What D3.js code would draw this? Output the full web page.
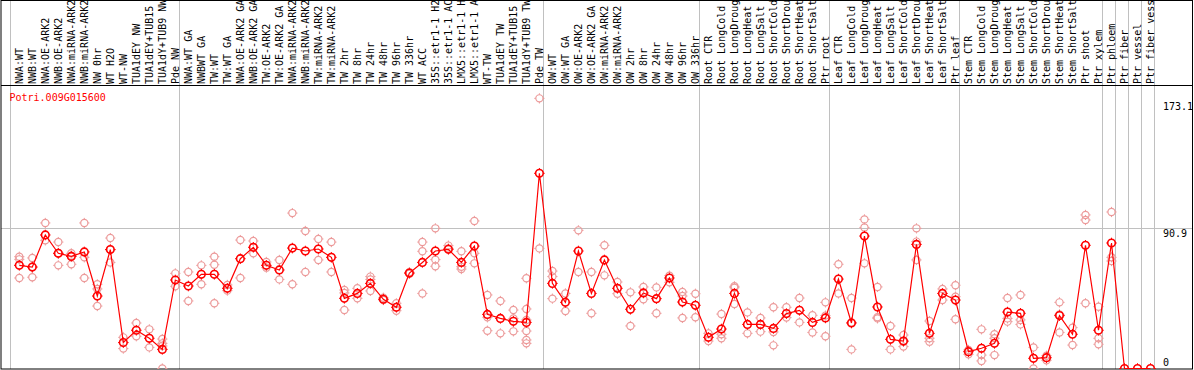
<!DOCTYPE html>
<html>
<head>
<meta charset="utf-8">
<script src="https://cdn.jsdelivr.net/npm/d3@7"></script>
<style>
  body { margin: 0; background: #fff; }
  svg { display: block; }
  text { font-family: "DejaVu Sans Mono", monospace; font-size: 10px; }
</style>
</head>
<body>
<svg id="chart" width="1194" height="370"></svg>
<script>
const geneId = 'Potri.009G015600';

const samples = [
  'NWA:WT', 'NWB:WT', 'NWA:OE-ARK2', 'NWB:OE-ARK2', 'NWA:miRNA-ARK2', 'NWB:miRNA-ARK2',
  'NW 0hr', 'WT H2O', 'WT-NW', 'TUA1dEY NW', 'TUA1dEY+TUB15', 'TUA1dY+TUB9 NW', 'Pde NW',
  'NWA:WT GA', 'NWBWT GA', 'TW:WT', 'TW:WT GA', 'NWA:OE-ARK2 GA', 'NWB:OE-ARK2 GA',
  'TW:OE-ARK2', 'TW:OE-ARK2 GA', 'NWA:miRNA-ARK2', 'NWB:miRNA-ARK2', 'TW:miRNA-ARK2',
  'TW:miRNA-ARK2', 'TW 2hr', 'TW 8hr', 'TW 24hr', 'TW 48hr', 'TW 96hr', 'TW 336hr', 'WT ACC',
  '35S::etr1-1 H2', '35S::etr1-1 AC', 'LMX5::etr1-1 H', 'LMX5::etr1-1 A', 'WT-TW',
  'TUA1dEY TW', 'TUA1dEY+TUB15', 'TUA1dY+TUB9 TW', 'Pde TW',
  'OW:WT', 'OW:WT GA', 'OW:OE-ARK2', 'OW:OE-ARK2 GA', 'OW:miRNA-ARK2', 'OW:miRNA-ARK2',
  'OW 2hr', 'OW 8hr', 'OW 24hr', 'OW 48hr', 'OW 96hr', 'OW 336hr',
  'Root CTR', 'Root LongCold', 'Root LongDroug', 'Root LongHeat', 'Root LongSalt',
  'Root ShortCold', 'Root ShortDrou', 'Root ShortHeat', 'Root ShortSalt', 'Ptr root',
  'Leaf CTR', 'Leaf LongCold', 'Leaf LongDroug', 'Leaf LongHeat', 'Leaf LongSalt',
  'Leaf ShortCold', 'Leaf ShortDrou', 'Leaf ShortHeat', 'Leaf ShortSalt', 'Ptr leaf',
  'Stem CTR', 'Stem LongCold', 'Stem LongDroug', 'Stem LongHeat', 'Stem LongSalt',
  'Stem ShortCold', 'Stem ShortDrou', 'Stem ShortHeat', 'Stem ShortSalt',
  'Ptr shoot', 'Ptr xylem', 'Ptr phloem', 'Ptr fiber', 'Ptr vessel', 'Ptr fiber vess'
];

// mean expression per sample
const means = [
  66.9, 65.8, 86.6, 74.7, 72.7, 75.6, 47.0, 77.1, 16.8, 24.8, 19.6, 12.4, 57.4,
  53.5, 61.1, 61.1, 52.0, 71.2, 78.6, 66.9, 63.9, 78.1, 76.2, 77.5, 72.1, 45.5,
  48.7, 55.2, 44.9, 39.7, 61.9, 68.8, 76.2, 77.3, 68.8, 79.4, 35.1, 32.5, 30.6,
  29.9, 126.6, 55.2, 42.9, 76.2, 48.7, 70.4, 52.0, 38.4, 49.0, 45.3, 58.7, 43.1,
  41.0, 20.2, 25.6, 48.7, 28.6, 28.6, 26.0, 35.6, 37.7, 29.9, 32.8, 58.0, 29.5,
  85.9, 39.9, 18.9, 17.8, 80.5, 22.8, 48.7, 44.4, 10.9, 13.1, 16.3, 36.6, 35.8,
  6.6, 7.0, 34.3, 22.2, 79.9, 24.8, 81.4, 0, 0, 0
];

// individual replicates per sample
const reps = [
  [72.5, 70.8, 58.7], [71.7, 59.2, 65.8], [94.4, 83.1], [82.0, 66.9, 74.7],
  [74.7, 73.2, 67.6], [94.4, 72.1, 58.7], [54.6, 51.6, 40.5], [84.6, 68.8, 77.1],
  [20.2, 12.9], [29.5, 20.9], [25.4, 13.7], [19.1, 16.3, 14.6, 0],
  [61.7, 53.3], [62.6, 43.8], [66.9, 54.6], [72.5, 67.3, 42.3], [54.2, 50.5],
  [83.3, 58.7], [82.7, 74.7], [69.1, 65.4], [70.4, 57.8], [100.8, 54.6],
  [89.2, 62.6], [84.0, 70.4], [82.0, 62.6], [50.9, 49.0, 37.9], [52.0, 45.5],
  [59.6, 57.8, 50.3], [45.9, 44.4], [42.3, 37.5], [62.4, 61.5], [82.0, 76.0, 48.7],
  [90.9, 70.6, 66.3], [79.7, 77.9], [76.0, 66.0, 64.5], [95.7, 74.7, 68.2],
  [47.7, 33.2, 24.5], [43.8, 22.8], [37.9, 32.5, 24.1],
  [58.5, 38.6, 31.5, 24.3, 18.5, 16.3], [175.2, 77.9],
  [63.2, 59.6, 45.3], [48.7, 37.3], [89.6, 62.6], [62.6, 35.8], [79.9, 60.4],
  [56.1, 48.5], [49.4, 27.6], [52.9, 44.9], [52.6, 35.8], [60.2, 55.9],
  [49.6, 47.0, 32.8], [48.5, 33.2],
  [22.8, 17.8], [35.3, 22.2, 19.6], [53.3, 52.4, 41.8], [36.4, 22.8], [32.8, 23.9],
  [39.7, 23.7, 15.0], [39.7, 33.0], [45.7, 29.9], [34.5, 23.4], [42.9, 34.3, 20.9],
  [67.6, 48.7], [45.7, 29.9, 12.4], [96.7, 91.5, 68.2], [52.9, 33.2, 32.5],
  [27.6, 12.4], [21.7, 17.4, 14.2], [90.9, 82.3, 70.4], [30.8, 19.6, 17.4],
  [51.6, 44.4], [54.0, 46.6, 31.9],
  [12.0, 9.2], [25.4, 8.7, 4.9], [22.2, 19.6, 8.7], [45.7, 32.5, 30.4],
  [47.7, 31.5, 28.6], [13.7, 0], [8.3, 5.3], [42.9, 35.1, 23.4], [26.5, 15.2],
  [99.6, 96.3, 42.3], [40.1, 19.6, 15.7], [101.5, 72.1, 69.7], [], [], []
];

const yTicks = [0, 90.9, 173.1];
const gridValues = [90.9];
// sample index where a new group starts
const groupBreaks = [0, 13, 41, 53, 63, 73, 84, 85, 86, 87, 88];

const svg = d3.select('#chart'),
  headerH = 85,
  frameRight = 1192.5,
  frameBottom = 369;

const x = d3.scaleLinear().domain([0, samples.length - 1]).range([19.3, 1150.5]);
const step = x(1) - x(0);
const y = d3.scaleLinear().domain([0, 173.1]).range([368.5, 101.6]);

svg.append('defs').append('clipPath').attr('id', 'plot-clip')
  .append('rect')
  .attr('x', 1).attr('y', headerH)
  .attr('width', frameRight - 1).attr('height', frameBottom - headerH);

// gray group separators (through header and plot)
svg.append('g')
  .selectAll('line')
  .data(groupBreaks)
  .join('line')
  .attr('x1', k => Math.round(x(k) - 9.3) + 0.5)
  .attr('x2', k => Math.round(x(k) - 9.3) + 0.5)
  .attr('y1', 0)
  .attr('y2', frameBottom)
  .attr('stroke', '#c0c0c0')
  .attr('stroke-width', 1);

// horizontal grid
svg.append('g')
  .selectAll('line')
  .data(gridValues)
  .join('line')
  .attr('x1', 1).attr('x2', frameRight)
  .attr('y1', d => Math.round(y(d)) + 0.5)
  .attr('y2', d => Math.round(y(d)) + 0.5)
  .attr('stroke', '#c0c0c0');

// sample labels in the header, rotated
svg.append('g')
  .selectAll('text')
  .data(samples)
  .join('text')
  .attr('transform', (d, i) => 'translate(' + (x(i) + 3.4) + ',84)rotate(-90)')
  .attr('fill', '#000')
  .text(d => d);

// header white-out above y=0 handled by svg edges; frame lines
const frame = svg.append('g').attr('fill', 'none').attr('stroke', '#000');
frame.append('rect')
  .attr('x', 1).attr('y', 0.5)
  .attr('width', frameRight - 1).attr('height', frameBottom - 0.5);
frame.append('line')
  .attr('x1', 1).attr('x2', frameRight)
  .attr('y1', headerH + 0.5).attr('y2', headerH + 0.5);

const plot = svg.append('g').attr('clip-path', 'url(#plot-clip)');

function addTicks(sel, r) {
  sel.each(function(d) {
    const g = d3.select(this.parentNode);
    const cx = +d3.select(this).attr('cx'), cy = +d3.select(this).attr('cy');
    const col = d3.select(this).attr('stroke');
    [[0, -1], [0, 1], [-1, 0], [1, 0]].forEach(([dx, dy]) => {
      g.append('line')
        .attr('x1', cx + dx * r).attr('y1', cy + dy * r)
        .attr('x2', cx + dx * (r + 1.5)).attr('y2', cy + dy * (r + 1.5))
        .attr('stroke', col).attr('stroke-width', 1);
    });
  });
}

// replicates
const repPts = reps.flatMap((arr, i) => arr.map(v => ({i, v})));
const repG = plot.append('g');
repG.selectAll('circle')
  .data(repPts)
  .join('circle')
  .attr('cx', d => x(d.i))
  .attr('cy', d => y(d.v))
  .attr('r', 3.6)
  .attr('fill', 'none')
  .attr('stroke', '#ec9a9a')
  .attr('stroke-width', 1.2)
  .call(addTicks, 3.6);

// mean line
const line1 = d3.line()
  .x((d, i) => x(i))
  .y(d => y(d));

plot.append('path')
  .datum(means)
  .attr('fill', 'none')
  .attr('stroke', '#ff0000')
  .attr('stroke-width', 1.2)
  .attr('d', line1);

const meanG = plot.append('g');
meanG.selectAll('circle')
  .data(means)
  .join('circle')
  .attr('cx', (d, i) => x(i))
  .attr('cy', d => y(d))
  .attr('r', 3.8)
  .attr('fill', 'none')
  .attr('stroke', '#ff0000')
  .attr('stroke-width', 1.6)
  .call(addTicks, 3.8);

// title
svg.append('text')
  .attr('x', 9.5).attr('y', 101)
  .attr('fill', '#ff0000')
  .text(geneId);

// y labels on the right
svg.append('g')
  .selectAll('text')
  .data(yTicks)
  .join('text')
  .attr('x', 1163)
  .attr('y', d => Math.min(y(d) + 8.5, 365.5))
  .attr('fill', '#000')
  .text(d => d);
</script>
</body>
</html>
